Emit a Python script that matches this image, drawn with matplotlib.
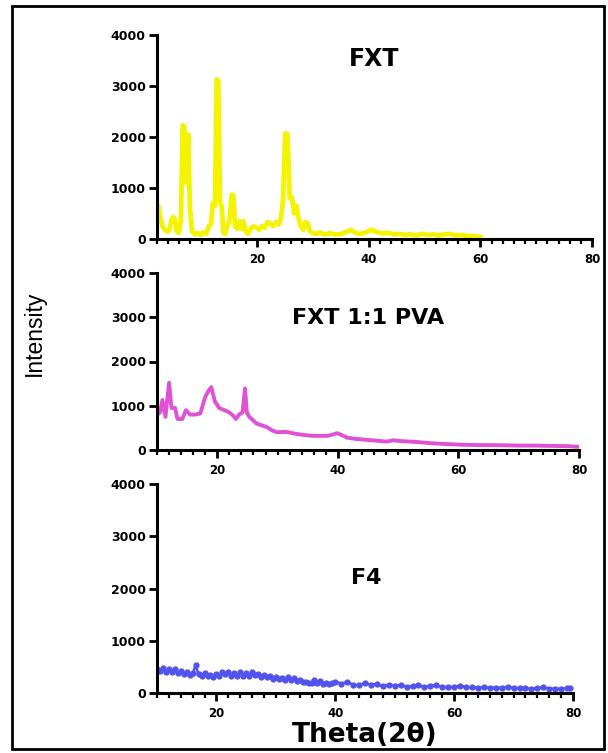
import numpy as np
import matplotlib.pyplot as plt
from matplotlib.patches import Rectangle
from matplotlib.ticker import MultipleLocator

# FXT pure drug
fxt_theta = [2.0, 2.3, 2.6, 3.0, 3.4, 3.8, 4.2, 4.6, 4.9, 5.2, 5.5, 5.9, 6.3, 6.6, 6.9,
             7.2, 7.6, 7.9, 8.3, 8.8, 9.3, 9.8, 10.3, 10.8, 11.3, 11.7, 12.0, 12.4, 12.7,
             13.0, 13.3, 13.6, 13.9, 14.2, 14.6, 15.0, 15.4, 15.7, 16.0, 16.4, 16.8, 17.2,
             17.5, 17.9, 18.3, 18.8, 19.3, 19.8, 20.3, 20.8, 21.3, 21.8, 22.3, 22.8, 23.3,
             23.8, 24.2, 24.6, 25.0, 25.4, 25.8, 26.2, 26.6, 27.0, 27.4, 27.8, 28.2, 28.6,
             29.0, 29.4, 29.8, 30.5, 31.2, 32.0, 33.0, 34.0, 35.0, 36.0, 36.8, 37.6, 38.5,
             39.5, 40.4, 41.3, 42.5, 43.5, 44.5, 45.5, 46.5, 47.5, 48.5, 49.5, 50.5, 51.5,
             52.5, 53.5, 54.5, 55.5, 56.5, 57.5, 58.5, 59.3, 60.0]
fxt_int = [650, 640, 400, 250, 180, 150, 160, 380, 430, 400, 150, 120, 400, 2230, 2200,
           1100, 2050, 600, 150, 90, 120, 80, 130, 100, 250, 300, 700, 650, 3130,
           3100, 700, 650, 120, 100, 250, 350, 870, 850, 250, 200, 350, 200,
           350, 150, 100, 200, 250, 230, 180, 250, 220, 330, 300, 250, 330,
           280, 400, 750, 2070, 2060, 800, 820, 500, 650, 400, 250, 180, 330,
           310, 150, 120, 100, 130, 90, 110, 90, 100, 140, 180, 120, 100,
           130, 180, 140, 110, 120, 90, 100, 80, 90, 70, 100, 80, 90,
           70, 90, 100, 70, 80, 60, 60, 50, 40]

# FXT 1:1 PVA
pva_theta = [10.0, 10.5, 10.9, 11.4, 12.0, 12.4, 13.0, 13.4, 14.2, 14.8, 15.5, 16.3, 17.2,
             18.0, 18.6, 19.0, 19.6, 20.3, 21.2, 22.0, 22.6, 23.1, 23.6, 24.2, 24.6, 24.9,
             25.3, 25.7, 26.5, 27.3, 28.2, 29.0, 29.9, 31.0, 31.8, 32.8, 33.8, 35.0, 36.0,
             37.2, 38.3, 39.2, 39.9, 40.6, 41.5, 43.0, 44.8, 46.5, 48.1, 49.2, 50.5, 52.0,
             53.1, 54.5, 55.8, 58.0, 60.3, 62.0, 64.1, 66.0, 68.0, 70.0, 72.4, 74.5, 76.8,
             78.5, 80.0]
pva_int = [790, 850, 1130, 750, 1520, 950, 950, 700, 700, 900, 800, 800, 830,
           1200, 1350, 1420, 1100, 950, 900, 850, 780, 700, 800, 850, 1390, 850,
           750, 700, 600, 560, 520, 450, 400, 410, 400, 370, 350, 330, 320,
           320, 320, 350, 380, 340, 280, 250, 230, 210, 190, 220, 200, 190,
           180, 165, 150, 135, 120, 115, 110, 110, 105, 100, 100, 95, 90,
           85, 70]

# F4 formulation
f4_theta = [10.0, 10.5, 11.0, 11.5, 12.0, 12.5, 13.0, 13.5, 14.0, 14.5, 15.0, 15.5, 16.0,
            16.5, 17.0, 17.5, 18.0, 18.5, 19.0, 19.5, 20.0, 20.5, 21.0, 21.5, 22.0, 22.5,
            23.0, 23.5, 24.0, 24.5, 25.0, 25.5, 26.0, 26.5, 27.0, 27.5, 28.0, 28.5, 29.0,
            29.5, 30.0, 30.5, 31.0, 31.5, 32.0, 32.5, 33.0, 33.5, 34.0, 34.5, 35.0, 35.5,
            36.0, 36.5, 37.0, 37.5, 38.0, 38.5, 39.0, 39.5, 40.0, 41.0, 42.0, 43.0, 44.0,
            45.0, 46.0, 47.0, 48.0, 49.0, 50.0, 51.0, 52.0, 53.0, 54.0, 55.0, 56.0, 57.0,
            58.0, 59.0, 60.0, 61.0, 62.0, 63.0, 64.0, 65.0, 66.0, 67.0, 68.0, 69.0, 70.0,
            71.0, 72.0, 73.0, 74.0, 75.0, 76.0, 77.0, 78.0, 79.0, 79.5]
f4_int = [450, 420, 470, 400, 450, 410, 460, 390, 430, 360, 410, 350, 380,
          530, 360, 330, 380, 320, 350, 300, 360, 320, 410, 360, 400, 330,
          390, 320, 400, 330, 380, 320, 400, 340, 360, 310, 340, 300, 330,
          270, 310, 260, 290, 250, 300, 240, 280, 230, 240, 210, 220, 200,
          190, 240, 200, 230, 180, 200, 170, 190, 220, 180, 210, 160, 150,
          190, 160, 170, 130, 160, 140, 150, 120, 130, 150, 120, 140, 150,
          120, 110, 120, 140, 110, 110, 105, 110, 100, 105, 100, 120, 95,
          95, 90, 85, 90, 110, 85, 85, 80, 90, 95]

W, H = 608, 753
fig = plt.figure(figsize=(W / 100, H / 100), dpi=100)
plt.rcParams['font.family'] = ['DejaVu Sans']


def px_axes(left, right, top, bottom):
    return fig.add_axes([left / W, 1 - bottom / H, (right - left) / W, (bottom - top) / H])


def style(ax, xmin):
    ax.set_ylim(0, 4000)
    ax.set_xlim(xmin, 80)
    ax.set_yticks([0, 1000, 2000, 3000, 4000])
    ax.set_xticks([20, 40, 60, 80])
    ax.xaxis.set_minor_locator(MultipleLocator(2))
    for s in ["top", "right"]:
        ax.spines[s].set_visible(False)
    for s in ["left", "bottom"]:
        ax.spines[s].set_linewidth(2.2)
    ax.tick_params(which="major", length=6, width=2, pad=2)
    ax.tick_params(axis="y", labelsize=9)
    ax.tick_params(axis="x", labelsize=8.5, pad=4)
    ax.tick_params(which="minor", length=3.5, width=1.6)
    ax.tick_params(axis="y", which="minor", length=0)
    for lab in ax.get_xticklabels() + ax.get_yticklabels():
        lab.set_fontweight("bold")


ax1 = px_axes(157, 592, 35, 239)
ax1.plot(fxt_theta, fxt_int, color="#F4F400", lw=3.4, solid_joinstyle="round")
style(ax1, 2)
ax1.text(0.5, 0.88, "FXT", transform=ax1.transAxes, ha="center", va="center",
         fontsize=17, fontweight="bold")

ax2 = px_axes(157, 579, 273, 450)
ax2.plot(pva_theta, pva_int, color="#E052D4", lw=2.8, solid_joinstyle="round")
style(ax2, 10)
ax2.text(0.5, 0.745, "FXT 1:1 PVA", transform=ax2.transAxes, ha="center", va="center",
         fontsize=16, fontweight="bold")

ax3 = px_axes(157, 573, 484, 693)
ax3.plot(f4_theta, f4_int, color="#5252EC", lw=1.8, marker="o", ms=3.5)
style(ax3, 10)
ax3.text(0.502, 0.55, "F4", transform=ax3.transAxes, ha="center", va="center",
         fontsize=16, fontweight="bold")

fig.text(34 / W, 1 - 333 / H, "Intensity", rotation=90, ha="center", va="center",
         fontsize=16.5, family=["Liberation Sans", "DejaVu Sans"])
fig.text(365 / W, 1 - 735 / H, "Theta(2\u03b8)", ha="center", va="center",
         fontsize=19, fontweight="bold")

fig.add_artist(Rectangle((12 / W, 1 - 749 / H), 592 / W, 743 / H, transform=fig.transFigure,
                         fill=False, lw=2, edgecolor="black"))

fig.savefig("out.png", dpi=100)
